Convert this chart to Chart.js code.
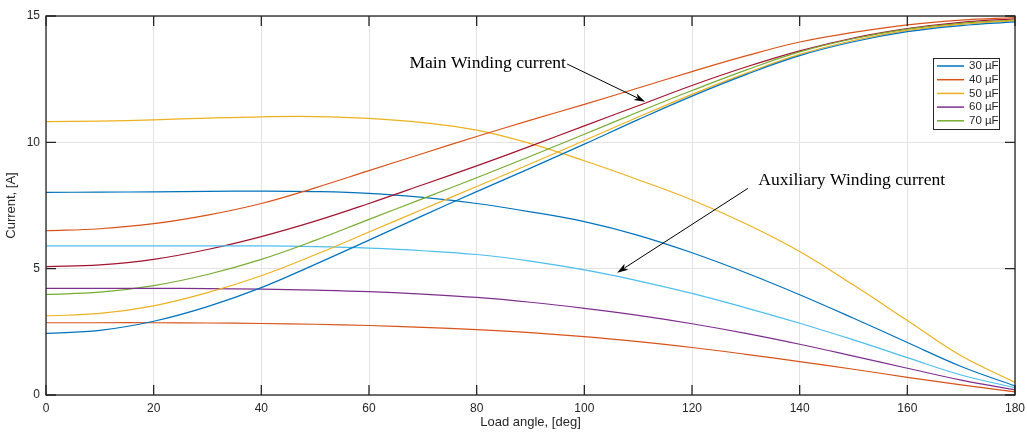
<!DOCTYPE html>
<html lang="en">
  <head>
    <meta charset="UTF-8" />
    <script src="https://cdn.jsdelivr.net/npm/chart.js"></script>
    <title>Current vs load angle</title>
    <style>
      body {
        margin: 0;
        padding: 0;
        background: #fff;
      }
      .container {
        width: 1027px;
        height: 432px;
      }
    </style>
  </head>
  <body>
    <div class="container">
      <canvas id="chart"></canvas>
    </div>
    <script>
      // load angle, deg
      const angles = [0, 10, 20, 30, 40, 50, 60, 70, 80, 90, 100, 110, 120, 130, 140, 150, 160, 170, 180]
      const xTicks = [0, 20, 40, 60, 80, 100, 120, 140, 160, 180]
      const yTicks = [0, 5, 10, 15]
      const legendLabels = ['30 µF', '40 µF', '50 µF', '60 µF', '70 µF']

      // main winding current, A
      const mainBlue = [2.44, 2.56, 2.92, 3.5, 4.25, 5.17, 6.13, 7.1, 8.05, 8.98, 9.93, 10.9, 11.83, 12.68, 13.43, 13.98, 14.38, 14.62, 14.77]
      const mainOrange = [6.5, 6.58, 6.78, 7.12, 7.58, 8.2, 8.88, 9.56, 10.23, 10.88, 11.5, 12.15, 12.8, 13.42, 13.97, 14.35, 14.65, 14.84, 14.94]
      const mainYellow = [3.13, 3.23, 3.53, 4.05, 4.72, 5.55, 6.45, 7.35, 8.25, 9.15, 10.07, 11.0, 11.9, 12.73, 13.48, 14.03, 14.43, 14.67, 14.82]
      const mainGreen = [3.98, 4.07, 4.33, 4.77, 5.37, 6.12, 6.95, 7.77, 8.6, 9.45, 10.32, 11.2, 12.05, 12.86, 13.58, 14.1, 14.48, 14.71, 14.84]
      const mainRed = [5.08, 5.15, 5.37, 5.76, 6.27, 6.88, 7.58, 8.32, 9.07, 9.85, 10.65, 11.45, 12.25, 12.98, 13.62, 14.13, 14.5, 14.75, 14.89]

      // auxiliary winding current, A
      const auxYellow = [10.82, 10.84, 10.89, 10.96, 11.01, 11.02, 10.95, 10.78, 10.48, 9.95, 9.27, 8.52, 7.72, 6.78, 5.68, 4.35, 2.95, 1.55, 0.5]
      const auxBlue = [8.02, 8.03, 8.04, 8.06, 8.07, 8.05, 7.98, 7.82, 7.58, 7.25, 6.86, 6.32, 5.63, 4.84, 3.97, 3.04, 2.08, 1.13, 0.36]
      const auxLightBlue = [5.9, 5.9, 5.9, 5.9, 5.9, 5.87, 5.81, 5.71, 5.56, 5.3, 4.95, 4.52, 4.02, 3.45, 2.84, 2.18, 1.48, 0.79, 0.29]
      const auxPurple = [4.22, 4.22, 4.22, 4.21, 4.19, 4.15, 4.09, 3.99, 3.86, 3.67, 3.43, 3.15, 2.82, 2.44, 2.01, 1.54, 1.06, 0.59, 0.2]
      const auxOrange = [2.86, 2.86, 2.86, 2.85, 2.83, 2.8, 2.75, 2.68, 2.59, 2.47, 2.31, 2.11, 1.88, 1.61, 1.32, 1.02, 0.7, 0.4, 0.12]

      const series = [
        { name: legendLabels[0], data: mainBlue, color: '#0072BD' },
        { name: legendLabels[1], data: mainOrange, color: '#D95319' },
        { name: legendLabels[2], data: mainYellow, color: '#EDB120' },
        { name: legendLabels[3], data: auxPurple, color: '#7E2F8E' },
        { name: legendLabels[4], data: mainGreen, color: '#77AC30' },
        { name: '', data: auxLightBlue, color: '#4DBEEE' },
        { name: '', data: mainRed, color: '#A2142F' },
        { name: '', data: auxBlue, color: '#0072BD' },
        { name: '', data: auxOrange, color: '#D95319' },
        { name: '', data: auxYellow, color: '#EDB120' },
      ]

      const datasets = series.map((s) => ({
        label: s.name,
        data: angles.map((a, i) => ({ x: a, y: s.data[i] })),
        borderColor: s.color,
        backgroundColor: s.color,
        borderWidth: 1.2,
        pointRadius: 0,
        tension: 0.4,
        fill: false,
      }))

      const arrow = (ctx, x1, y1, x2, y2) => {
        const ang = Math.atan2(y2 - y1, x2 - x1)
        const len = 11
        const w = 3.5
        ctx.beginPath()
        ctx.moveTo(x1, y1)
        ctx.lineTo(x2 - Math.cos(ang) * len * 0.8, y2 - Math.sin(ang) * len * 0.8)
        ctx.stroke()
        ctx.beginPath()
        ctx.moveTo(x2, y2)
        ctx.lineTo(x2 - Math.cos(ang) * len - Math.sin(ang) * w, y2 - Math.sin(ang) * len + Math.cos(ang) * w)
        ctx.lineTo(x2 - Math.cos(ang) * len * 0.75, y2 - Math.sin(ang) * len * 0.75)
        ctx.lineTo(x2 - Math.cos(ang) * len + Math.sin(ang) * w, y2 - Math.sin(ang) * len - Math.cos(ang) * w)
        ctx.closePath()
        ctx.fill()
      }

      const matlabFrame = {
        id: 'matlabFrame',
        afterDraw(chart) {
          const { ctx, chartArea: a, scales } = chart
          const sx = scales.x
          const sy = scales.y
          ctx.save()
          // box and inward ticks
          ctx.strokeStyle = '#262626'
          ctx.lineWidth = 1.3
          ctx.strokeRect(a.left, a.top, a.right - a.left, a.bottom - a.top)
          ctx.beginPath()
          xTicks.forEach((t) => {
            const px = sx.getPixelForValue(t)
            ctx.moveTo(px, a.bottom)
            ctx.lineTo(px, a.bottom - 10)
            ctx.moveTo(px, a.top)
            ctx.lineTo(px, a.top + 10)
          })
          yTicks.forEach((t) => {
            const py = sy.getPixelForValue(t)
            ctx.moveTo(a.left, py)
            ctx.lineTo(a.left + 10, py)
            ctx.moveTo(a.right, py)
            ctx.lineTo(a.right - 10, py)
          })
          ctx.stroke()

          // annotations
          ctx.fillStyle = '#000'
          ctx.strokeStyle = '#000'
          ctx.lineWidth = 1
          ctx.font = '17.6px "Liberation Serif", "Times New Roman", serif'
          ctx.textBaseline = 'alphabetic'
          ctx.fillText('Main Winding current', sx.getPixelForValue(67.5), sy.getPixelForValue(12.95))
          arrow(ctx, sx.getPixelForValue(96.8), sy.getPixelForValue(13.1), sx.getPixelForValue(111.3), sy.getPixelForValue(11.61))
          ctx.fillText('Auxiliary Winding current', sx.getPixelForValue(132.3), sy.getPixelForValue(8.3))
          arrow(ctx, sx.getPixelForValue(130.4), sy.getPixelForValue(8.18), sx.getPixelForValue(106.1), sy.getPixelForValue(4.84))

          // legend box
          const lx = 933
          const ly = 58
          ctx.fillStyle = '#fff'
          ctx.fillRect(lx, ly, 66, 71)
          ctx.strokeStyle = '#262626'
          ctx.lineWidth = 1
          ctx.strokeRect(lx + 0.5, ly + 0.5, 66, 71)
          ctx.font = '11.5px "Liberation Sans", Arial, sans-serif'
          ctx.textBaseline = 'middle'
          series.slice(0, 5).forEach((s, i) => {
            const y = ly + 8 + i * 13.7
            ctx.strokeStyle = s.color
            ctx.lineWidth = 1.5
            ctx.beginPath()
            ctx.moveTo(lx + 4, y)
            ctx.lineTo(lx + 31, y)
            ctx.stroke()
            ctx.fillStyle = '#262626'
            ctx.fillText(s.name, lx + 36, y)
          })
          ctx.restore()
        },
      }

      const chart = new Chart(document.getElementById('chart').getContext('2d'), {
        type: 'line',
        data: { datasets },
        options: {
          responsive: true,
          maintainAspectRatio: false,
          animation: false,
          layout: { padding: { left: 0, right: 12, top: 16, bottom: 0 } },
          plugins: {
            legend: { display: false },
            tooltip: { enabled: false },
          },
          scales: {
            x: {
              type: 'linear',
              min: 0,
              max: 180,
              afterBuildTicks: (axis) => {
                axis.ticks = xTicks.map((v) => ({ value: v }))
              },
              afterFit: (axis) => {
                axis.height = 37
                axis.paddingLeft = 0
                axis.paddingRight = 0
              },
              grid: { color: '#e3e3e3', drawTicks: false },
              border: { display: false },
              ticks: {
                padding: 6,
                color: '#262626',
                font: { family: '"Liberation Sans", Arial, sans-serif', size: 12 },
                maxRotation: 0,
              },
              title: {
                display: true,
                text: 'Load angle, [deg]',
                color: '#262626',
                font: { family: '"Liberation Sans", Arial, sans-serif', size: 13 },
                padding: { top: 0, bottom: 2 },
              },
            },
            y: {
              min: 0,
              max: 15,
              afterBuildTicks: (axis) => {
                axis.ticks = yTicks.map((v) => ({ value: v }))
              },
              afterFit: (axis) => {
                axis.width = 46
                axis.paddingTop = 0
                axis.paddingBottom = 0
              },
              grid: { color: '#e3e3e3', drawTicks: false },
              border: { display: false },
              ticks: {
                padding: 6,
                color: '#262626',
                font: { family: '"Liberation Sans", Arial, sans-serif', size: 12 },
              },
              title: {
                display: true,
                text: 'Current, [A]',
                color: '#262626',
                font: { family: '"Liberation Sans", Arial, sans-serif', size: 13 },
                padding: { top: 4, bottom: 0 },
              },
            },
          },
        },
        plugins: [matlabFrame],
      })
    </script>
  </body>
</html>
